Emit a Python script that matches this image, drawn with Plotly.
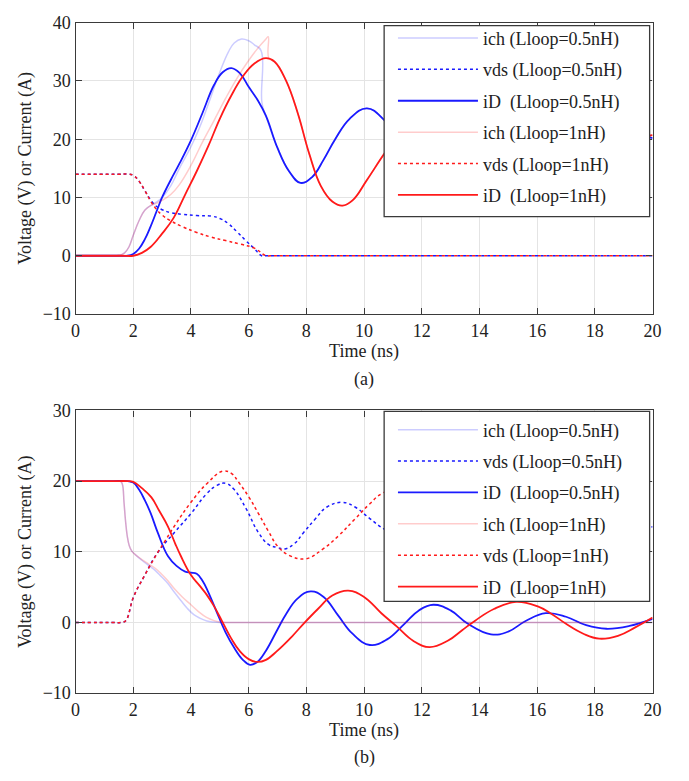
import plotly.graph_objects as go

# ---------------- (a) data ----------------
a_ich05_t = [0, 1.0, 1.35, 1.55, 1.7, 1.85, 2.0, 2.2, 2.4, 2.6, 2.8, 3.0, 3.3, 3.6, 4.0, 4.3, 4.6, 5.0, 5.3, 5.5, 5.75, 6.0, 6.2, 6.43, 6.46]
a_ich05_v = [0, 0, 0, 0.1, 0.5, 1.5, 3.5, 6.0, 7.8, 8.6, 9.2, 10.0, 12.0, 15.0, 18.7, 22.0, 26.0, 31.5, 35.0, 36.5, 37.2, 36.9, 36.2, 35.2, 26.3]

a_vds05_t = [0, 1.0, 1.5, 1.8, 2.0, 2.2, 2.4, 2.6, 2.8, 3.0, 3.3, 3.7, 4.2, 4.7, 5.0, 5.3, 5.6, 5.9, 6.2, 6.45, 6.6, 6.9, 8, 10, 13, 16, 20]
a_vds05_v = [14, 14, 14, 14, 13.8, 12.8, 11.2, 9.6, 8.5, 7.9, 7.4, 7.1, 6.9, 6.8, 6.4, 5.5, 4.1, 2.6, 1.2, 0, 0, 0, 0, 0, 0, 0, 0]

a_iD05_t = [0, 1.0, 1.5, 1.8, 2.0, 2.2, 2.4, 2.6, 2.8, 3.0, 3.3, 3.6, 4.0, 4.4, 4.8, 5.1, 5.4, 5.7, 6.0, 6.3, 6.6, 7.0, 7.4, 7.8,
            8.2, 8.6, 9.0, 9.5, 10.1, 10.7, 11.3, 12.0, 12.5, 13.2, 14.0, 14.6, 15.3, 16.0, 16.8, 17.6, 18.4, 19.2, 20]
a_iD05_v = [0, 0, 0, 0, 0.3, 1.2, 2.8, 5.0, 7.5, 10.0, 13.0, 15.8, 19.8, 24.5, 29.3, 31.5, 32.2, 31.3, 29.0, 26.8, 24.0, 18.5, 14.5, 12.5,
            13.5, 16.5, 20.0, 23.5, 25.3, 23.3, 19.5, 16.5, 16.3, 18.5, 22.0, 22.5, 21.0, 19.0, 18.8, 20.0, 21.2, 21.0, 20.2]

a_ich1_t = [0, 1.0, 1.35, 1.55, 1.7, 1.85, 2.0, 2.2, 2.4, 2.6, 2.8, 3.0, 3.3, 3.6, 4.0, 4.4, 4.8, 5.2, 5.6, 6.0, 6.3, 6.6, 6.68, 6.7]
a_ich1_v = [0, 0, 0, 0.1, 0.5, 1.5, 3.5, 6.0, 7.8, 8.6, 9.0, 9.5, 10.5, 12.2, 15.5, 19.5, 23.2, 27.0, 30.5, 33.5, 35.5, 37.2, 37.6, 33.9]

a_vds1_t = [0, 1.0, 1.5, 1.8, 2.0, 2.2, 2.4, 2.6, 2.8, 3.0, 3.3, 3.7, 4.2, 4.7, 5.2, 5.7, 6.2, 6.6, 6.75, 7.0, 8, 10, 13, 16, 20]
a_vds1_v = [14, 14, 14, 14, 13.8, 12.8, 11.2, 9.4, 8.0, 7.0, 6.0, 5.0, 4.0, 3.2, 2.6, 2.0, 1.3, 0, 0, 0, 0, 0, 0, 0, 0]

a_iD1_t = [0, 1.0, 1.6, 2.0, 2.3, 2.6, 3.0, 3.4, 3.8, 4.2, 4.6, 5.0, 5.4, 5.8, 6.2, 6.6, 6.9, 7.3, 7.7, 8.1, 8.5, 8.9, 9.25, 9.6,
           10.1, 10.7, 11.3, 12.0, 12.6, 13.3, 14.0, 14.8, 15.6, 16.4, 17.2, 18.0, 18.8, 19.5, 20]
a_iD1_v = [0, 0, 0, 0, 0.5, 1.5, 3.8, 6.5, 10.5, 14.5, 18.8, 23.5, 27.5, 30.8, 33.0, 33.9, 33.3, 30.0, 24.5, 17.5, 12.0, 9.3, 8.6, 9.5,
           13.0, 17.5, 21.5, 24.0, 24.0, 22.0, 19.0, 17.3, 18.0, 20.0, 21.5, 21.8, 21.0, 20.5, 20.7]

# ---------------- (b) data ----------------
b_ich05_t = [0, 0.8, 1.3, 1.55, 1.62, 1.68, 1.73, 1.79, 1.86, 1.95, 2.07, 2.3, 2.52, 2.75, 2.97, 3.2, 3.42, 3.65, 3.87, 4.1, 4.31,
             4.55, 4.8, 5.0, 5.5, 7, 10, 13, 16, 20]
b_ich05_v = [20, 20, 20, 20, 19.6, 17, 14.5, 12.3, 10.9, 10.1, 9.6, 8.8, 8.1, 7.4, 6.5, 5.5, 4.3, 3.1, 2.0, 1.1, 0.6,
             0.2, 0.05, 0, 0, 0, 0, 0, 0, 0]

b_vds05_t = [0, 0.8, 1.3, 1.6, 1.75, 2.0, 2.4, 2.85, 3.42, 4.0, 4.54, 4.9, 5.2, 5.5, 5.9, 6.34, 6.7, 7.0, 7.25, 7.6, 7.9, 8.3, 8.7, 9.25,
             9.7, 10.2, 10.7, 11.3, 11.9, 12.5, 13.2, 13.9, 14.6, 15.3, 16.0, 16.8, 17.5, 18.3, 19.1, 20]
b_vds05_v = [0, 0, 0, 0, 0.3, 3.5, 6.7, 9.9, 12.7, 15.4, 18.2, 19.4, 19.7, 18.8, 16.2, 12.7, 11.0, 10.6, 10.4, 11.2, 12.7, 14.6, 16.3, 17.0,
             16.3, 14.7, 13.2, 12.0, 11.8, 12.8, 14.5, 15.5, 15.0, 13.8, 13.0, 13.4, 14.3, 14.6, 14.2, 13.5]

b_iD05_t = [0, 0.8, 1.3, 1.8, 2.0, 2.2, 2.4, 2.6, 2.85, 3.2, 3.5, 3.8, 4.0, 4.2, 4.4, 4.6, 4.88, 5.2, 5.5, 5.8, 6.05, 6.3, 6.6, 7.0,
            7.3, 7.7, 8.15, 8.6, 9.1, 9.6, 10.2, 10.8, 11.4, 11.9, 12.4, 13.0, 13.6, 14.4, 15.0, 15.6, 16.3, 17.0, 17.7,
            18.4, 19.2, 20]
b_iD05_v = [20, 20, 20, 20, 19.8, 18.8, 17.3, 15.5, 12.7, 9.4, 8.0, 7.2, 7.05, 6.9, 5.9, 4.3, 1.6, -1.4, -3.6, -5.3, -6.0, -5.6, -4.0, -1.0,
            1.2, 3.4, 4.4, 3.6, 1.0, -1.6, -3.2, -2.4, -0.2, 1.7, 2.5, 1.7, -0.2, -1.7, -1.3, 0.2, 1.3, 0.8, -0.4,
            -0.9, -0.5, 0.5]

b_ich1_t = [0, 0.8, 1.3, 1.55, 1.62, 1.68, 1.73, 1.79, 1.86, 1.95, 2.07, 2.3, 2.52, 2.75, 2.97, 3.2, 3.42, 3.7, 4.0, 4.27, 4.54,
            4.8, 5.0, 5.2, 5.6, 7, 10, 13, 16, 20]
b_ich1_v = [20, 20, 20, 20, 19.6, 17, 14.5, 12.3, 10.9, 10.1, 9.6, 8.9, 8.3, 7.7, 6.9, 5.9, 4.8, 3.6, 2.5, 1.5, 0.7,
            0.25, 0.05, 0, 0, 0, 0, 0, 0, 0]

b_vds1_t = [0, 0.8, 1.3, 1.6, 1.75, 2.0, 2.4, 2.85, 3.1, 3.42, 4.0, 4.54, 5.1, 5.4, 5.66, 6.0, 6.34, 6.7, 7.0, 7.4, 7.97, 8.58, 9.1, 9.7,
            10.2, 10.6, 11.2, 11.8, 12.5, 13.2, 13.9, 14.6, 15.3, 16.0, 16.7, 17.4, 18.1, 18.8, 19.4, 20]
b_vds1_v = [0, 0, 0, 0, 0.3, 3.5, 6.7, 9.9, 11.5, 13.6, 17.0, 19.6, 21.4, 21.1, 19.8, 17.8, 15.4, 12.8, 10.8, 9.5, 9.0, 10.4, 12.2, 14.7,
            16.8, 18.2, 19.0, 18.3, 16.0, 13.3, 11.8, 11.9, 13.3, 15.0, 16.0, 15.6, 14.4, 13.0, 12.3, 12.0]

b_iD1_t = [0, 0.8, 1.3, 1.8, 2.0, 2.3, 2.63, 2.9, 3.2, 3.45, 3.65, 4.0, 4.3, 4.55, 4.8, 5.1, 5.4, 5.7, 6.0, 6.3, 6.6, 7.0, 7.5, 7.9,
           8.4, 8.9, 9.45, 10.0, 10.6, 11.14, 11.7, 12.27, 12.9, 13.4, 13.85, 14.5, 15.27, 16.0, 16.5, 17.0, 17.6, 18.15,
           18.8, 19.4, 20]
b_iD1_v = [20, 20, 20, 20, 19.9, 19.0, 17.7, 15.8, 13.6, 11.2, 9.4, 6.7, 5.2, 3.9, 2.3, 0.0, -2.3, -4.1, -5.2, -5.6, -5.3, -4.0, -2.0, -0.2,
           1.9, 3.8, 4.5, 3.6, 1.3, -0.6, -2.6, -3.5, -2.6, -1.1, 0.25, 1.9, 2.9, 2.3, 1.2, -0.2, -1.6, -2.3,
           -1.9, -0.7, 0.7]

legend_names = ["ich (Lloop=0.5nH)", "vds (Lloop=0.5nH)", "iD\u00a0 (Lloop=0.5nH)",
                "ich (Lloop=1nH)", "vds (Lloop=1nH)", "iD\u00a0 (Lloop=1nH)"]


# channel current collapses onto drain current once vds reaches zero
def join_after(t1, v1, t2, v2):
    tt = list(t1)
    vv = list(v1)
    for t, v in zip(t2, v2):
        if t > t1[-1] + 0.1:
            tt.append(t)
            vv.append(v)
    return tt, vv


a_ich05_T, a_ich05_V = join_after(a_ich05_t, a_ich05_v, a_iD05_t, a_iD05_v)
a_ich1_T, a_ich1_V = join_after(a_ich1_t, a_ich1_v, a_iD1_t, a_iD1_v)

BLUE = "#1a1aff"
RED = "#ff1a1a"
LBLUE = "rgba(0,0,255,0.2)"
LRED = "rgba(255,0,0,0.2)"

fig = go.Figure()


def add_set(sets, xa, ya, leg):
    styles = [
        (LBLUE, "solid", 1.5),
        (BLUE, "dot", 1.5),
        (BLUE, "solid", 1.8),
        (LRED, "solid", 1.5),
        (RED, "dot", 1.5),
        (RED, "solid", 1.8),
    ]
    for i, ((t, v), (c, d, w)) in enumerate(zip(sets, styles)):
        fig.add_trace(go.Scatter(
            x=t, y=v, mode="lines", name=legend_names[i],
            line=dict(color=c, dash=d, width=w, shape="spline", smoothing=1.2),
            xaxis=xa, yaxis=ya, legend=leg, legendgroup=leg + str(i),
            showlegend=True,
        ))


add_set([(a_ich05_T, a_ich05_V), (a_vds05_t, a_vds05_v), (a_iD05_t, a_iD05_v),
         (a_ich1_T, a_ich1_V), (a_vds1_t, a_vds1_v), (a_iD1_t, a_iD1_v)], "x", "y", "legend")
add_set([(b_ich05_t, b_ich05_v), (b_vds05_t, b_vds05_v), (b_iD05_t, b_iD05_v),
         (b_ich1_t, b_ich1_v), (b_vds1_t, b_vds1_v), (b_iD1_t, b_iD1_v)], "x2", "y2", "legend2")

FONT = "Liberation Serif, Times New Roman, serif"
W, H = 689, 781
xdom = [72 / W, 661 / W]
ya_dom = [1 - 312 / H, 1 - 13 / H]
yb_dom = [1 - 701 / H, 1 - 411 / H]
FRAME = "#3a3a3a"

axis_common = dict(
    showgrid=True, gridcolor="#e4e4e4", gridwidth=1,
    showline=True, linecolor=FRAME, linewidth=1.3, mirror="ticks",
    ticks="inside", ticklen=6, tickcolor=FRAME, tickwidth=1.2,
    zeroline=False, tickfont=dict(family=FONT, size=18, color="#222"),
)

title_font = dict(family=FONT, size=18, color="#222")
leg_common = dict(xanchor="left", yanchor="top", bgcolor="rgba(0,0,0,0)", borderwidth=0,
                  font=dict(family=FONT, size=18, color="#222"),
                  tracegroupgap=5, itemwidth=80, traceorder="grouped")

fig.update_layout(
    width=W, height=H,
    margin=dict(l=0, r=0, t=0, b=0),
    paper_bgcolor="white", plot_bgcolor="white",
    font=dict(family=FONT, size=18, color="#222"),
    xaxis=dict(domain=xdom, anchor="y", range=[0, 20], tick0=0, dtick=2,
               title=dict(text="Time (ns)", font=title_font, standoff=4), **axis_common),
    yaxis=dict(domain=ya_dom, anchor="x", range=[-10, 40], tick0=-10, dtick=10,
               title=dict(text="Voltage (V) or Current (A)", font=title_font, standoff=6), **axis_common),
    xaxis2=dict(domain=xdom, anchor="y2", range=[0, 20], tick0=0, dtick=2,
                title=dict(text="Time (ns)", font=title_font, standoff=4), **axis_common),
    yaxis2=dict(domain=yb_dom, anchor="x2", range=[-10, 30], tick0=-10, dtick=10,
                title=dict(text="Voltage (V) or Current (A)", font=title_font, standoff=6), **axis_common),
    legend=dict(x=396 / W, y=1 - 10 / H, **leg_common),
    legend2=dict(x=396 / W, y=1 - 412 / H, **leg_common),
    shapes=[
        dict(type="rect", xref="paper", yref="paper", x0=387 / W, x1=658 / W, y0=1 - 212 / H, y1=1 - 16 / H,
             fillcolor="white", line=dict(color=FRAME, width=1.3), layer="above"),
        dict(type="rect", xref="paper", yref="paper", x0=387 / W, x1=658 / W, y0=1 - 607 / H, y1=1 - 412 / H,
             fillcolor="white", line=dict(color=FRAME, width=1.3), layer="above"),
    ],
    annotations=[
        dict(text="(a)", x=(xdom[0] + xdom[1]) / 2, y=1 - 379 / H, xref="paper", yref="paper",
             showarrow=False, font=dict(family=FONT, size=18, color="#222"), yanchor="middle"),
        dict(text="(b)", x=(xdom[0] + xdom[1]) / 2, y=1 - 767 / H, xref="paper", yref="paper",
             showarrow=False, font=dict(family=FONT, size=18, color="#222"), yanchor="middle"),
    ],
)

fig.write_html("out.html")
